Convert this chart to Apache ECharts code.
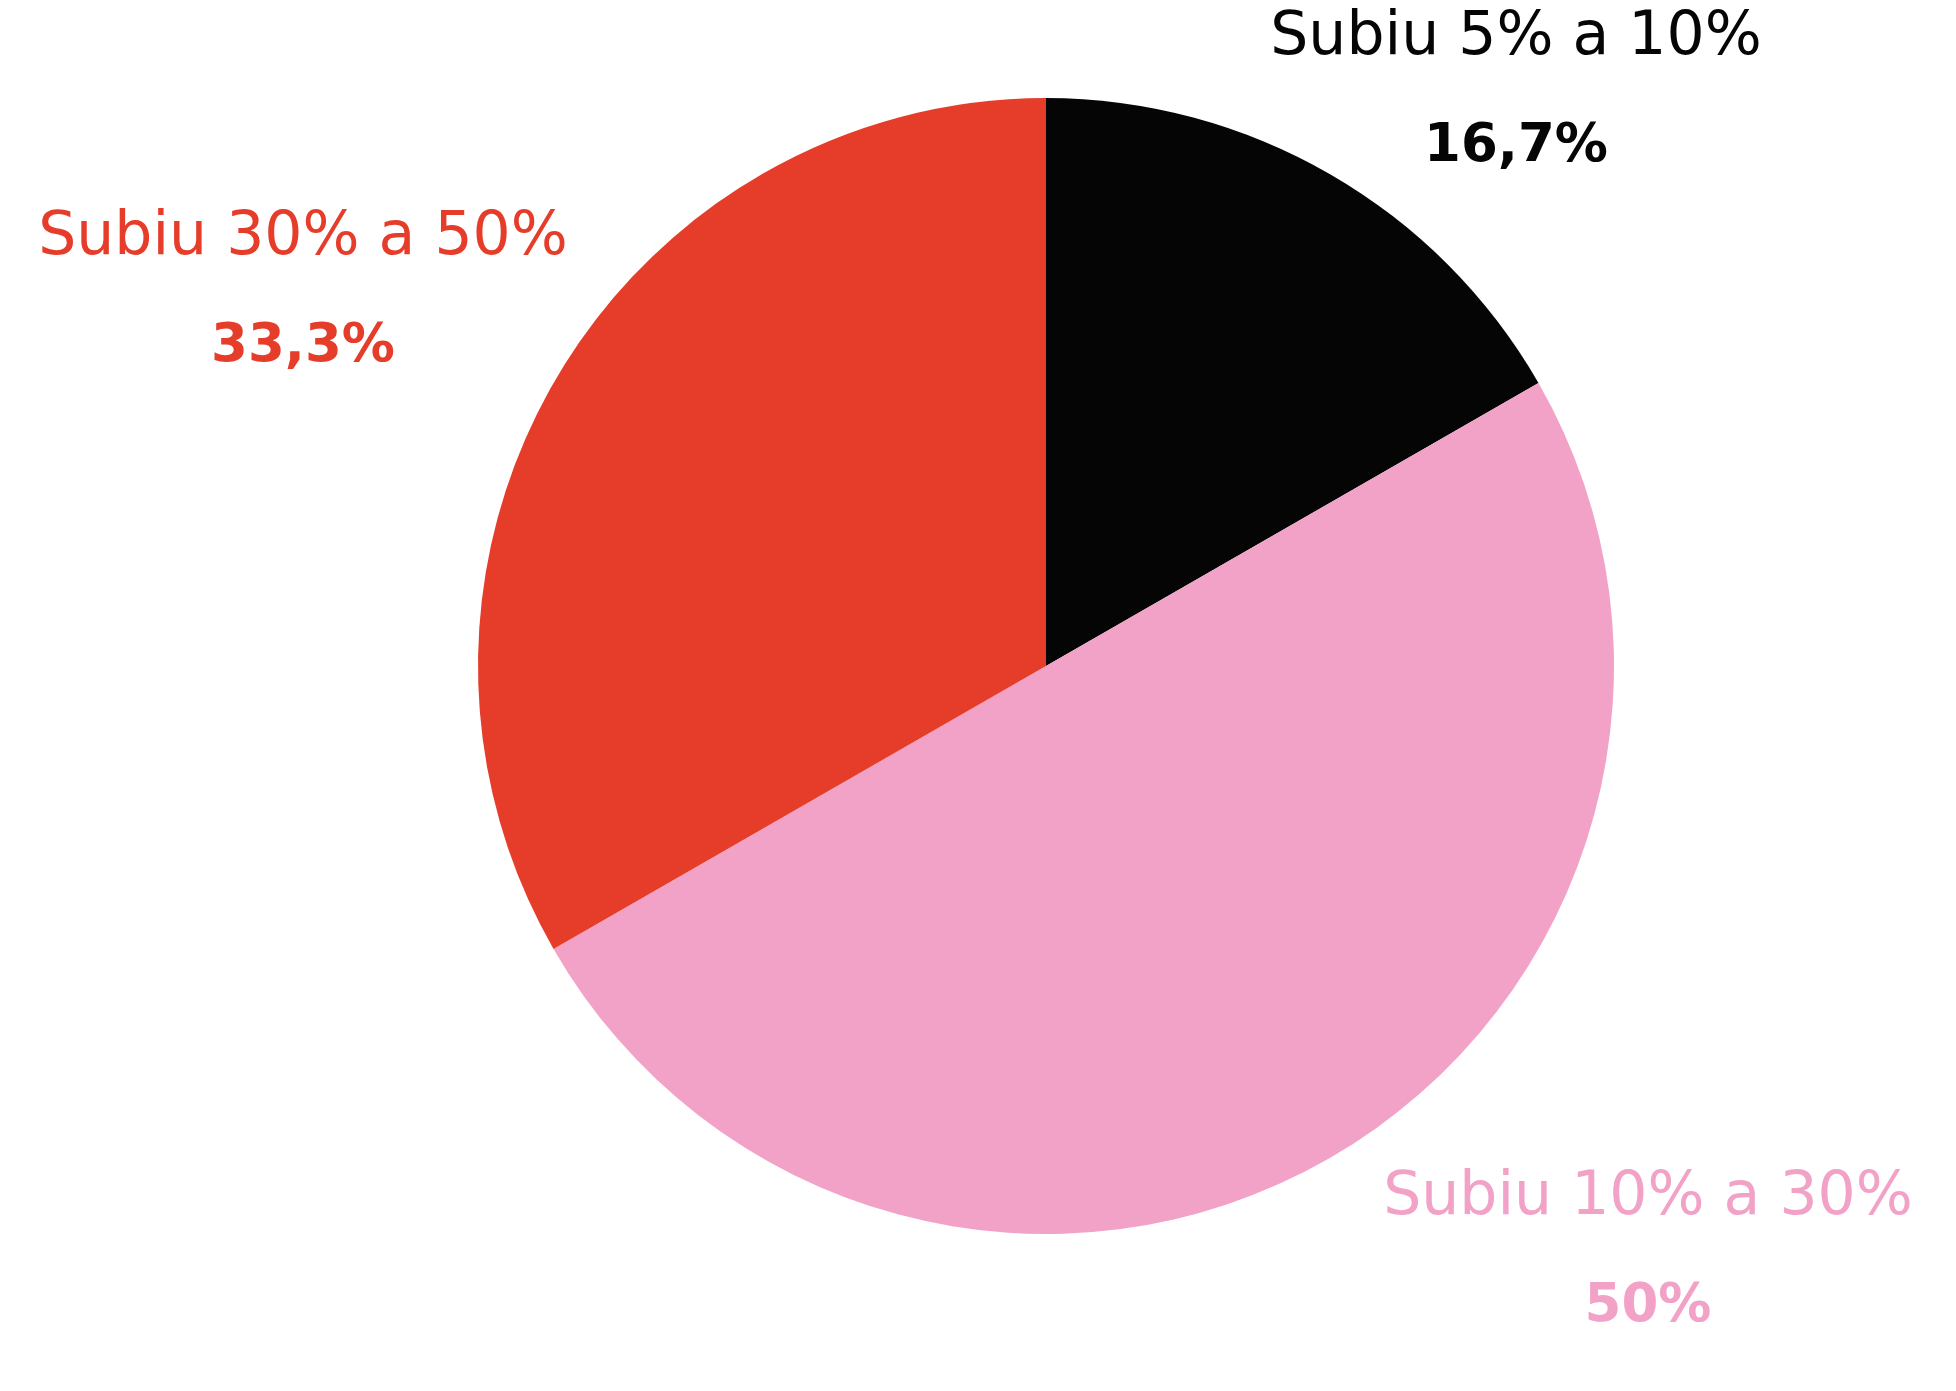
<!DOCTYPE html>
<html>
<head>
<meta charset="utf-8">
<script src="https://cdn.jsdelivr.net/npm/echarts@6/dist/echarts.min.js"></script>
<style>
html,body{margin:0;padding:0;background:#fff;}
#chart{width:1956px;height:1391px;}
</style>
</head>
<body>
<div id="chart"></div>
<script>
const categories = ['Subiu 5% a 10%', 'Subiu 10% a 30%', 'Subiu 30% a 50%'];
const values = [16.7, 50, 33.3];
const colors = ['#050505', '#f2a2c7', '#e63c2a'];

const labelPos = [[1516, 93], [1648, 1253], [303, 293]];

const chart = echarts.init(document.getElementById('chart'), null, {renderer: 'canvas'});
chart.setOption({
  animation: false,
  backgroundColor: '#ffffff',
  series: [{
    type: 'pie',
    center: [1046, 666],
    radius: [0, 568],
    startAngle: 90,
    clockwise: true,
    silent: true,
    data: categories.map((c, i) => ({
      name: c,
      value: values[i],
      itemStyle: {color: colors[i]},
      label: {color: colors[i]}
    })),
    label: {
      show: true,
      overflow: 'none',
      width: 700,
      align: 'center',
      formatter: p => '{n|' + p.name + '}\n{v|' + String(p.value).replace('.', ',') + '%}',
      rich: {
        n: {fontFamily: 'DejaVu Sans', fontSize: 60, fontWeight: 'normal', lineHeight: 109, align: 'center'},
        v: {fontFamily: 'DejaVu Sans', fontSize: 53, fontWeight: 'bold', lineHeight: 109, align: 'center'}
      }
    },
    labelLine: {show: false},
    labelLayout: function (params) {
      const p = labelPos[params.dataIndex];
      return {x: p[0], y: p[1], align: 'center', verticalAlign: 'middle'};
    }
  }]
});
</script>
</body>
</html>
